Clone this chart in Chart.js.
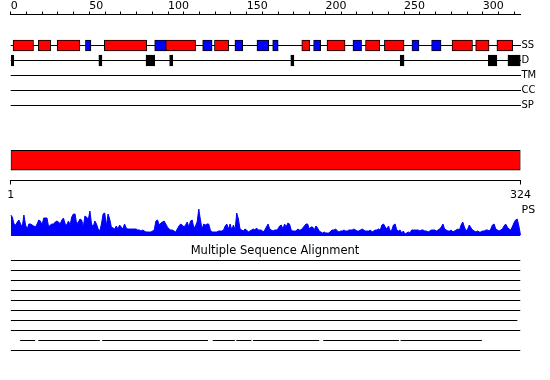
<!DOCTYPE html>
<html>
<head>
<meta charset="utf-8">
<script src="https://cdn.jsdelivr.net/npm/chart.js@4/dist/chart.umd.min.js"></script>
<style>
  body { margin: 0; background: #fff; }
  #wrap { position: relative; width: 550px; height: 380px; }
  canvas { position: absolute; left: 0; }
</style>
</head>
<body>
<div id="wrap">
  <canvas id="features" width="550" height="125" style="top:0"></canvas>
  <canvas id="domain" width="550" height="62" style="top:140px"></canvas>
  <canvas id="ps" width="550" height="46" style="top:198px"></canvas>
  <canvas id="msa" width="550" height="118" style="top:240px"></canvas>
</div>
<script>
// sequence + rulers
const seqLength = 324;
const topTicks = [0, 10, 20, 30, 40, 50, 60, 70, 80, 90, 100, 110, 120, 130, 140, 150, 160,
  170, 180, 190, 200, 210, 220, 230, 240, 250, 260, 270, 280, 290, 300, 310, 320];
const rulerTicks = [1, 324];

// feature rows (start, end in residues)
const rowLabels = ['SS', 'D', 'TM', 'CC', 'SP'];
const helices = [[1.5, 14.5], [17.5, 25.5], [29.5, 44], [59.5, 86.5], [98.5, 117.5], [129.5, 138.5],
  [185, 190], [201, 212.5], [225.5, 234.5], [237.5, 250], [280.5, 293.5], [295.5, 304], [309, 319]];
const strands = [[47.5, 51], [91.5, 98.5], [122, 128], [142.5, 147.5], [156.5, 164], [166.5, 170],
  [192.5, 197], [217.5, 223], [255, 259.5], [267.5, 273.5]];
const disorder = [[0, 2], [56, 58], [86, 91.5], [101, 103], [178, 180], [247.5, 250], [303.5, 309], [316, 324]];

// domain bar
const domains = [[1, 324]];

// PS profile, sampled left to right
const psValues = [
  21, 19, 12, 11, 14, 16, 12, 9, 21, 11, 7, 12, 12, 11, 10, 9, 12, 16, 15, 11,
  18, 18, 18, 9, 11, 12, 12, 14, 15, 14, 12, 16, 18, 12, 11, 15, 11, 19, 22, 22,
  12, 14, 17, 16, 9, 20, 19, 16, 25, 12, 9, 15, 12, 7, 5, 12, 22, 23, 10, 22,
  17, 9, 8, 7, 10, 7, 11, 9, 7, 12, 8, 7, 7, 7, 7, 7,
  7, 6, 6, 5, 6, 5, 4, 4, 4, 4, 5, 6, 15, 16, 11, 13, 14, 15, 12, 9,
  7, 6, 6, 5, 4, 7, 10, 12, 11, 9, 11, 14, 9, 15, 16, 8, 10, 14, 27, 16,
  7, 12, 11, 12, 12, 6, 4, 4, 4, 4, 5, 5, 5, 6, 10, 12, 7, 12, 6, 11,
  6, 23, 17, 7, 6, 5, 7, 6, 4, 5, 6, 7, 6, 8, 6, 6,
  6, 4, 6, 9, 12, 7, 6, 5, 6, 6, 7, 10, 11, 7, 12, 9, 13, 12, 6, 5,
  5, 5, 7, 6, 6, 8, 10, 12, 12, 7, 9, 9, 6, 10, 8, 5, 4, 3, 4, 3,
  3, 3, 5, 6, 6, 7, 5, 4, 5, 5, 6, 5, 5, 6, 6, 6, 7, 6, 5, 5,
  6, 7, 6, 5, 5, 5, 6, 4, 5, 6, 6, 7, 6, 11, 12, 9,
  7, 10, 5, 6, 11, 12, 6, 5, 6, 3, 5, 2, 3, 4, 3, 6, 6, 6, 6, 6,
  5, 6, 6, 5, 5, 4, 5, 6, 6, 6, 5, 6, 7, 9, 12, 7, 6, 5, 5, 6,
  4, 5, 6, 7, 6, 11, 14, 9, 5, 7, 11, 8, 6, 5, 4, 5, 4, 4, 5, 5,
  6, 6, 5, 7, 11, 12, 7, 6, 5, 6, 7, 10, 12, 9, 7, 6, 9, 13, 16, 17,
  10, 1
];

// multiple sequence alignment rows (aligned stretches)
const msaRows = [
  [[1, 324]], [[1, 324]], [[1, 324]], [[1, 324]], [[1, 324]], [[1, 324]],
  [[1, 322]],
  [[1, 324]],
  [[7, 16.5], [18.5, 57.5], [59, 126], [129, 143], [144, 153.5], [154.5, 196.5], [199, 247], [248, 299.5]],
  [[1, 324]]
];

Chart.defaults.font.family = 'DejaVu Sans';
Chart.defaults.font.size = 11;
Chart.defaults.color = '#000';

const common = {
  responsive: false,
  animation: false,
  devicePixelRatio: 1,
  plugins: { legend: { display: false }, tooltip: { enabled: false } }
};
const plotLeft = 10.7;
const plotRight = 520.5;
const rightGutter = 550 - plotRight;

// top panel: ruler + feature rows
const rowGap = 15;
const featTop = 14.5, featBottom = 115, firstRowY = 45.5;
const featMin = -(firstRowY - featTop) / rowGap;
const featMax = featMin + (featBottom - featTop) / rowGap;

function segBars(segs, row, color) {
  return {
    data: segs.map(s => ({ x: s, y: row })),
    backgroundColor: color,
    borderColor: '#000',
    borderWidth: 1,
    borderSkipped: false,
    barThickness: 11,
    grouped: false
  };
}

new Chart(document.getElementById('features'), {
  type: 'bar',
  data: {
    datasets: [
      segBars(helices, 0, '#ff0000'),
      segBars(strands, 0, '#0000ff'),
      segBars(disorder, 1, '#000000')
    ]
  },
  options: {
    ...common,
    indexAxis: 'y',
    layout: { padding: { left: plotLeft, right: 0, top: 0, bottom: 125 - featBottom } },
    scales: {
      x: {
        type: 'linear', position: 'top', min: 0, max: seqLength,
        afterBuildTicks: s => { s.ticks = topTicks.map(v => ({ value: v })); },
        afterFit: s => { s.height = featTop; },
        ticks: {
          autoSkip: false, maxRotation: 0, align: 'start', padding: 0,
          font: { lineHeight: 1 },
          callback: v => (v % 50 === 0 ? String(v) : '')
        },
        grid: { drawOnChartArea: false, tickLength: 3, tickColor: '#000' },
        border: { color: '#000' }
      },
      y: {
        type: 'linear', position: 'right', reverse: true, offset: false,
        min: featMin, max: featMax,
        afterBuildTicks: s => { s.ticks = rowLabels.map((_, i) => ({ value: i })); },
        afterFit: s => { s.width = rightGutter; },
        ticks: { padding: 1, font: { size: 10 }, callback: v => rowLabels[v] },
        grid: { color: '#000', drawTicks: false, offset: false },
        border: { display: false }
      }
    }
  }
});

// domain bar + residue ruler
new Chart(document.getElementById('domain'), {
  type: 'bar',
  data: {
    datasets: [{
      data: domains.map(s => ({ x: s, y: 0 })),
      backgroundColor: '#ff0000', borderColor: '#000', borderWidth: 1,
      borderSkipped: false, barThickness: 20
    }]
  },
  options: {
    ...common,
    indexAxis: 'y',
    layout: { padding: { left: plotLeft, right: rightGutter, top: 0, bottom: 0 } },
    scales: {
      x: {
        type: 'linear', position: 'bottom', min: rulerTicks[0], max: rulerTicks[1],
        afterBuildTicks: s => { s.ticks = rulerTicks.map(v => ({ value: v })); },
        afterFit: s => { s.height = 21.5; },
        ticks: { autoSkip: false, maxRotation: 0, padding: 4 },
        grid: { drawOnChartArea: false, tickLength: 4, tickColor: '#000' },
        border: { color: '#000' }
      },
      y: { type: 'linear', display: false, min: -1, max: 1, offset: false }
    }
  }
});

// PS profile
new Chart(document.getElementById('ps'), {
  type: 'line',
  data: {
    labels: psValues.map((_, i) => i),
    datasets: [{
      data: psValues, fill: 'origin',
      backgroundColor: '#0000ff', borderColor: '#0000ff', borderWidth: 1,
      pointRadius: 0, tension: 0
    }]
  },
  options: {
    ...common,
    layout: { padding: { left: plotLeft, right: 0, top: 8, bottom: 8 } },
    scales: {
      x: { type: 'category', display: false, offset: false },
      y: {
        type: 'linear', position: 'right', min: 0, max: 30,
        afterBuildTicks: s => { s.ticks = [{ value: 26 }]; },
        afterFit: s => { s.width = rightGutter; },
        ticks: { padding: 1, callback: () => 'PS' },
        grid: { display: false, drawTicks: false },
        border: { display: false }
      }
    }
  }
});

// alignment rows
const titleSize = 11.5;
const msaTop = 240 + 4.4 + titleSize * 1.2, msaBottom = 118 + 240, msaFirstY = 260.5, msaGap = 10;
const msaMin = -(msaFirstY - msaTop) / msaGap;
const msaMax = msaMin + (msaBottom - msaTop) / msaGap;

new Chart(document.getElementById('msa'), {
  type: 'line',
  data: {
    datasets: msaRows.map((segs, r) => ({
      data: segs.flatMap(([s, e]) => [{ x: s, y: r }, { x: e, y: r }, { x: e, y: null }]),
      borderColor: '#000', borderWidth: 1, pointRadius: 0, spanGaps: false
    }))
  },
  options: {
    ...common,
    // symmetric padding keeps the title centred on the page; the blank axis fills the gap
    layout: { padding: { left: plotLeft, right: plotLeft, top: 0, bottom: 0 } },
    plugins: {
      legend: { display: false },
      tooltip: { enabled: false },
      title: {
        display: true, text: 'Multiple Sequence Alignment', color: '#000',
        font: { size: titleSize, weight: 'normal' }, padding: { top: 4.4, bottom: 0 }
      }
    },
    scales: {
      x: { type: 'linear', display: false, min: 1, max: seqLength },
      y: {
        type: 'linear', position: 'right', reverse: true, min: msaMin, max: msaMax,
        afterFit: s => { s.width = rightGutter - plotLeft; },
        ticks: { display: false },
        grid: { display: false, drawTicks: false },
        border: { display: false }
      }
    }
  }
});
</script>
</body>
</html>
